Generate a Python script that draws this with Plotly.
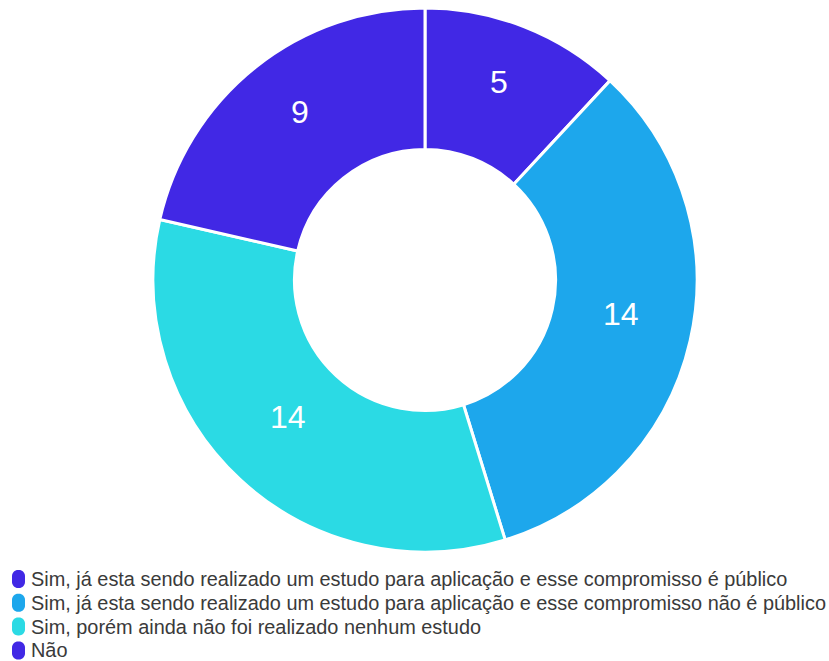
import math
import plotly.graph_objects as go

labels = [
    "Sim, já esta sendo realizado um estudo para aplicação e esse compromisso é público",
    "Sim, já esta sendo realizado um estudo para aplicação e esse compromisso não é público",
    "Sim, porém ainda não foi realizado nenhum estudo",
    "Não",
]
values = [5, 14, 14, 9]
colors = ["#4128E5", "#1DA7EC", "#2BDAE4", "#4128E5"]

W, H = 829, 661
cx, cy, r = 425, 280, 272
HOLE = 0.48
FONT = "Arial, Liberation Sans"

fig = go.Figure(
    go.Pie(
        labels=labels,
        values=values,
        hole=HOLE,
        sort=False,
        direction="clockwise",
        rotation=0,
        marker=dict(colors=colors, line=dict(color="white", width=3)),
        textinfo="none",
        showlegend=False,
        domain=dict(
            x=[(cx - r) / W, (cx + r) / W],
            y=[(H - (cy + r)) / H, (H - (cy - r)) / H],
        ),
    )
)


def px_x(x):
    return x / W


def px_y(y):
    return (H - y) / H


# value labels placed in the middle of the ring, at each slice's mid-angle
total = sum(values)
ring_mid = r * (1 + HOLE) / 2
annotations = []
acc = 0
for v in values:
    mid = (acc + v / 2) / total * 2 * math.pi
    acc += v
    lx = cx + ring_mid * math.sin(mid)
    ly = cy - ring_mid * math.cos(mid) - 11
    annotations.append(
        dict(
            text=str(v),
            xref="paper",
            yref="paper",
            x=px_x(lx),
            y=px_y(ly),
            xanchor="center",
            yanchor="middle",
            showarrow=False,
            font=dict(family=FONT, size=32, color="white"),
        )
    )


def pill_path(x0, x1, y0, y1, rad):
    # rounded rectangle in pixel units, converted to paper coordinates
    k = 0.5523 * rad
    segs = [
        ("M", [(x0 + rad, y0)]),
        ("L", [(x1 - rad, y0)]),
        ("C", [(x1 - rad + k, y0), (x1, y0 + rad - k), (x1, y0 + rad)]),
        ("L", [(x1, y1 - rad)]),
        ("C", [(x1, y1 - rad + k), (x1 - rad + k, y1), (x1 - rad, y1)]),
        ("L", [(x0 + rad, y1)]),
        ("C", [(x0 + rad - k, y1), (x0, y1 - rad + k), (x0, y1 - rad)]),
        ("L", [(x0, y0 + rad)]),
        ("C", [(x0, y0 + rad - k), (x0 + rad - k, y0), (x0 + rad, y0)]),
    ]
    parts = []
    for cmd, ps in segs:
        parts.append(cmd + " ".join(f"{px_x(a):.5f},{px_y(b):.5f}" for a, b in ps))
    return " ".join(parts) + " Z"


# legend drawn below the donut
legend_top = 579
legend_step = 23.8
shapes = []
for i, (lab, col) in enumerate(zip(labels, colors)):
    yc = legend_top + i * legend_step
    shapes.append(
        dict(
            type="path",
            xref="paper",
            yref="paper",
            path=pill_path(12, 25, yc - 9, yc + 9, 6),
            fillcolor=col,
            line=dict(width=0),
        )
    )
    annotations.append(
        dict(
            text=lab,
            xref="paper",
            yref="paper",
            x=px_x(30),
            y=px_y(yc),
            xanchor="left",
            yanchor="middle",
            showarrow=False,
            borderpad=0,
            font=dict(family=FONT, size=19.9, color="#3a3a3a"),
        )
    )

fig.update_layout(
    width=W,
    height=H,
    margin=dict(l=0, r=0, t=0, b=0),
    paper_bgcolor="white",
    plot_bgcolor="white",
    font=dict(family=FONT, color="#3a3a3a"),
    showlegend=False,
    annotations=annotations,
    shapes=shapes,
)

fig.write_html("out.html")
